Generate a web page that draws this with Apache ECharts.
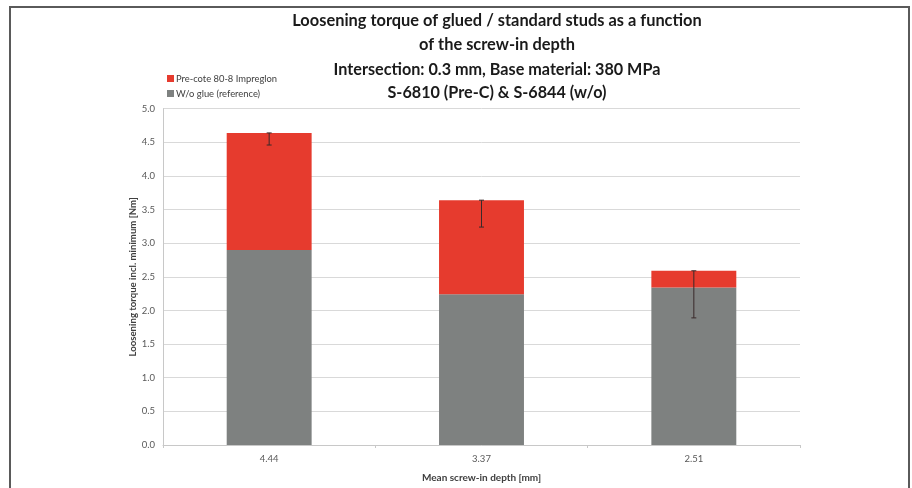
<!DOCTYPE html>
<html>
<head>
<meta charset="utf-8">
<script src="https://cdn.jsdelivr.net/npm/echarts@6/dist/echarts.min.js"></script>
<style>html,body{margin:0;padding:0;background:#fff}#c{width:912px;height:488px}</style>
</head>
<body>
<div id="c"></div>
<script>
const categories = ['4.44', '3.37', '2.51'];
const baseValues = [2.90, 2.24, 2.34];          // W/o glue (reference)
const glueExtra = [1.74, 1.40, 0.25];           // Pre-cote 80-8 Impreglon (stacked increment)
const errLow = [4.46, 3.24, 1.89];              // lower end of error bar
const yTicks = ['0.0','0.5','1.0','1.5','2.0','2.5','3.0','3.5','4.0','4.5','5.0'];
const titleLines = [
  'Loosening torque of glued / standard studs as a function',
  'of the screw-in depth',
  'Intersection: 0.3 mm, Base material: 380 MPa',
  'S-6810 (Pre-C) & S-6844 (w/o)'
];
const seriesNames = ['Pre-cote 80-8 Impreglon', 'W/o glue (reference)'];

const FONT = 'Lato';
const chart = echarts.init(document.getElementById('c'), null, {renderer: 'canvas'});

const totals = baseValues.map((b, i) => +(b + glueExtra[i]).toFixed(3));
const errData = categories.map((c, i) => [i, totals[i], errLow[i]]);
const titleY = [21, 45, 70, 93];
const titleSize = [16.4, 16.4, 16.2, 16.2];

chart.setOption({
  animation: false,
  backgroundColor: '#ffffff',
  textStyle: {fontFamily: FONT},
  graphic: [
    {type: 'polyline', silent: true, z: 100,
     shape: {points: [[10, 500], [10, 7], [909, 7], [909, 500]]},
     style: {stroke: '#5a5a5a', lineWidth: 2, fill: null}}
  ].concat(titleLines.map((t, i) => ({
    type: 'text', x: 497, y: titleY[i], silent: true,
    style: {text: t, fill: '#1a1a1a', font: 'bold ' + titleSize[i] + 'px ' + FONT, textAlign: 'center', textVerticalAlign: 'middle'}
  }))),
  legend: {
    orient: 'vertical', left: 162, top: 69, itemWidth: 7, itemHeight: 7, itemGap: 6,
    data: seriesNames,
    icon: 'rect',
    textStyle: {fontSize: 9.4, color: '#404040', fontFamily: FONT, padding: [0, 0, 0, -3]}
  },
  grid: {left: 163, right: 112, top: 108.7, bottom: 39.7, containLabel: false},
  xAxis: {
    type: 'category', data: categories,
    name: 'Mean screw-in depth [mm]', nameLocation: 'middle', nameGap: 28, nameMoveOverlap: false,
    nameTextStyle: {fontSize: 10, fontWeight: 'bold', color: '#404040', fontFamily: FONT},
    axisLine: {lineStyle: {color: '#c8c8c8', width: 1}},
    axisTick: {show: true, length: 3, lineStyle: {color: '#c8c8c8'}},
    axisLabel: {fontSize: 9.5, color: '#595959', margin: 9, fontFamily: FONT},
    splitLine: {show: false}
  },
  yAxis: {
    type: 'value', min: 0, max: 5, interval: 0.5,
    name: 'Loosening torque incl. minimum [Nm]', nameLocation: 'middle', nameGap: 25, nameMoveOverlap: false,
    nameRotate: 90,
    nameTextStyle: {fontSize: 9.6, fontWeight: 'bold', color: '#404040', fontFamily: FONT},
    axisLine: {show: true, lineStyle: {color: '#c8c8c8', width: 1}},
    axisTick: {show: false},
    axisLabel: {fontSize: 9.5, color: '#595959', margin: 8, fontFamily: FONT,
      formatter: v => yTicks[Math.round(v / 0.5)]},
    splitLine: {lineStyle: {color: '#d9d9d9', width: 1}}
  },
  series: [
    {name: seriesNames[1], type: 'bar', stack: 'a', data: baseValues, barWidth: '40%',
     itemStyle: {color: '#7e8180'}},
    {name: seriesNames[0], type: 'bar', stack: 'a', data: glueExtra, barWidth: '40%',
     itemStyle: {color: '#e63b2e'}},
    {name: 'err', type: 'custom', data: errData, z: 10,
     renderItem: (params, api) => {
       const x = api.value(0);
       const top = api.coord([x, api.value(1)]);
       const bot = api.coord([x, api.value(2)]);
       const hw = 2.5;
       const st = {stroke: '#3a2a2a', lineWidth: 1};
       return {type: 'group', children: [
         {type: 'line', shape: {x1: top[0], y1: top[1], x2: bot[0], y2: bot[1]}, style: st},
         {type: 'line', shape: {x1: top[0] - hw, y1: top[1], x2: top[0] + hw, y2: top[1]}, style: st},
         {type: 'line', shape: {x1: bot[0] - hw, y1: bot[1], x2: bot[0] + hw, y2: bot[1]}, style: st}
       ]};
     }}
  ]
});
</script>
</body>
</html>
